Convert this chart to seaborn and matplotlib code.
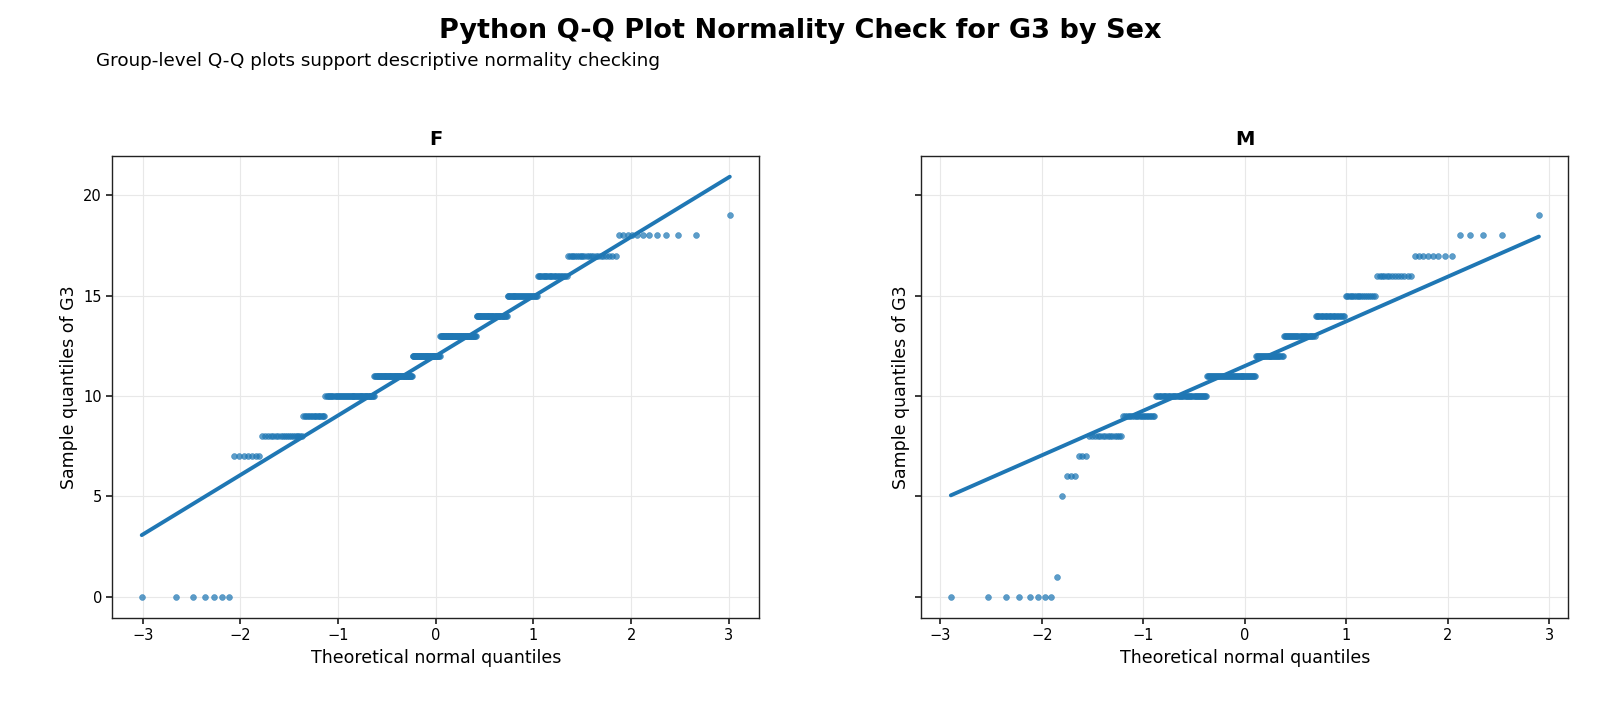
import numpy as np
import pandas as pd
import matplotlib
matplotlib.use("Agg")
import matplotlib.pyplot as plt
import seaborn as sns
from statistics import NormalDist

# G3 grade values and counts per sex
grades = [0, 1, 5, 6, 7, 8, 9, 10, 11, 12, 13, 14, 15, 16, 17, 18, 19]
counts_F = [7, 0, 0, 0, 7, 19, 16, 52, 54, 43, 55, 41, 32, 23, 22, 11, 1]
counts_M = [8, 1, 1, 3, 3, 14, 20, 44, 50, 28, 29, 22, 17, 13, 8, 4, 1]
groups = ["F", "M"]

title = "Python Q-Q Plot Normality Check for G3 by Sex"
subtitle = "Group-level Q-Q plots support descriptive normality checking"
xlabel = "Theoretical normal quantiles"
ylabel = "Sample quantiles of G3"

sns.set_theme(style="ticks")
plt.rcParams["font.family"] = ["DejaVu Sans"]
plt.rcParams["text.color"] = "black"
plt.rcParams["axes.labelcolor"] = "black"
plt.rcParams["xtick.color"] = "black"
plt.rcParams["ytick.color"] = "black"

color = "#1f77b4"

fig, axes = plt.subplots(1, 2, figsize=(16, 7.11), dpi=100, sharey=True)
fig.subplots_adjust(left=0.0702, right=0.9802, bottom=0.131, top=0.781, wspace=0.2508)

nd = NormalDist()
for ax, g, cnts in zip(axes, groups, [counts_F, counts_M]):
    y = np.sort(np.repeat(grades, cnts)).astype(float)
    n = len(y)
    p = (np.arange(1, n + 1) - 0.5) / n
    z = np.array([nd.inv_cdf(v) for v in p])
    # reference line through the first and third quartiles
    q1, q3 = np.percentile(y, [25, 75])
    z1, z3 = nd.inv_cdf(0.25), nd.inv_cdf(0.75)
    slope = (q3 - q1) / (z3 - z1)
    intercept = q1 - slope * z1
    df = pd.DataFrame({"z": z, "y": y})
    line_df = pd.DataFrame({"z": [z.min(), z.max()],
                            "y": [intercept + slope * z.min(), intercept + slope * z.max()]})
    ax.grid(True, color="#e8e8e8", linewidth=0.8)
    ax.set_axisbelow(True)
    sns.scatterplot(data=df, x="z", y="y", ax=ax, color=color, s=18, alpha=0.72,
                    edgecolor=color, linewidth=0.4, zorder=3)
    sns.lineplot(data=line_df, x="z", y="y", ax=ax, color=color, linewidth=2.8, zorder=4)
    ax.set_title(g, fontsize=14, fontweight="bold", pad=8)
    ax.set_xlabel(xlabel, fontsize=12.5)
    ax.set_ylabel(ylabel, fontsize=12.5)
    ax.yaxis.label.set_visible(True)
    ax.set_xticks([-3, -2, -1, 0, 1, 2, 3])
    ax.set_yticks([0, 5, 10, 15, 20])
    ax.tick_params(labelsize=10.5, length=4, color="#222222")
    for s in ax.spines.values():
        s.set_color("#222222")
        s.set_linewidth(1.0)

axes[1].tick_params(labelleft=False)
axes[1].set_ylabel(ylabel, fontsize=12.5)
axes[1].yaxis.label.set_visible(True)

fig.suptitle(title, fontsize=19.5, fontweight="bold", x=0.5, y=0.975)
fig.text(0.06, 0.914, subtitle, fontsize=13.2, ha="left", va="center")

fig.savefig("out.png", dpi=100)
